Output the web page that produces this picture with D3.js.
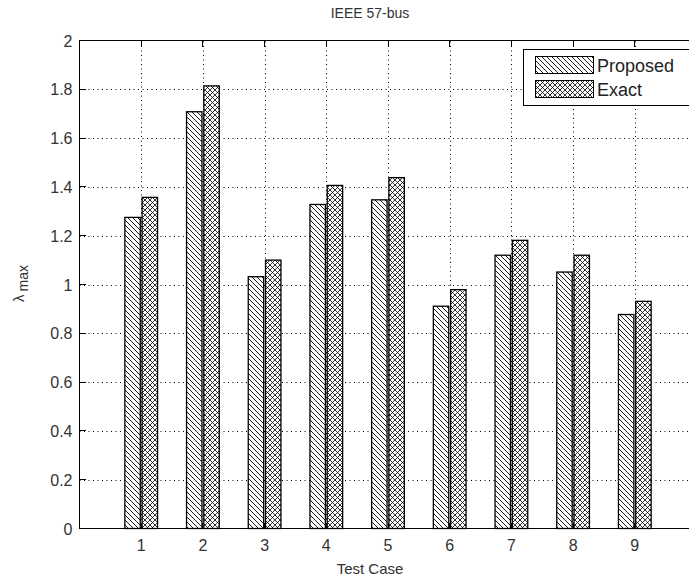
<html>
    <head>
        <style>
            body { margin: 0; background: #fff; }
            svg { display: block; }
            text { font-family: 'Liberation Sans', Arial, sans-serif; }
        </style>
        <script src="https://cdnjs.cloudflare.com/ajax/libs/d3/7.8.5/d3.min.js"></script>
    </head>
    <body>
        <script>
            const cases = [1, 2, 3, 4, 5, 6, 7, 8, 9];
            const proposed = [1.275, 1.708, 1.032, 1.328, 1.347, 0.911, 1.120, 1.051, 0.877];
            const exact = [1.357, 1.814, 1.100, 1.406, 1.438, 0.979, 1.181, 1.120, 0.931];
            const seriesNames = ['Proposed', 'Exact'];
            const yTicks = [0, 0.2, 0.4, 0.6, 0.8, 1, 1.2, 1.4, 1.6, 1.8, 2];

            const width = 689;
            const height = 579;

            // axes box runs off the right edge, like the reference
            const x = d3.scaleLinear().domain([0, 10]).range([79.5, 696.5]);
            const y = d3.scaleLinear().domain([0, 2]).range([528.5, 40.5]);

            const svg = d3.select('body').append('svg')
                .attr('width', width)
                .attr('height', height);

            svg.append('rect')
                .attr('width', width)
                .attr('height', height)
                .attr('fill', '#fff');

            const defs = svg.append('defs');

            // "\\\" hatch for Proposed
            const p1 = defs.append('pattern')
                .attr('id', 'hatch')
                .attr('patternUnits', 'userSpaceOnUse')
                .attr('width', 5)
                .attr('height', 5);
            p1.append('rect').attr('width', 5).attr('height', 5).attr('fill', '#fff');
            p1.append('path')
                .attr('d', 'M0,0L5,5M-1,4L1,6M4,-1L6,1')
                .attr('stroke', '#000')
                .attr('stroke-width', 0.9);

            // cross hatch for Exact
            const p2 = defs.append('pattern')
                .attr('id', 'cross')
                .attr('patternUnits', 'userSpaceOnUse')
                .attr('width', 5)
                .attr('height', 5);
            p2.append('rect').attr('width', 5).attr('height', 5).attr('fill', '#fff');
            p2.append('path')
                .attr('d', 'M0,0L5,5M-1,4L1,6M4,-1L6,1M0,5L5,0M-1,1L1,-1M4,6L6,4')
                .attr('stroke', '#000')
                .attr('stroke-width', 0.8);

            const fills = ['url(#hatch)', 'url(#cross)'];

            // dotted grid
            const grid = svg.append('g')
                .attr('stroke', '#000')
                .attr('stroke-width', 1)
                .attr('stroke-dasharray', '1,3.5');
            grid.selectAll('.gy')
                .data(yTicks.slice(1, -1))
                .enter().append('line')
                .attr('x1', x(0))
                .attr('x2', x(10))
                .attr('y1', d => Math.round(y(d)) + 0.5)
                .attr('y2', d => Math.round(y(d)) + 0.5);
            grid.selectAll('.gx')
                .data(cases)
                .enter().append('line')
                .attr('x1', d => Math.round(x(d)) + 0.5)
                .attr('x2', d => Math.round(x(d)) + 0.5)
                .attr('y1', y(0))
                .attr('y2', y(2));

            // bars
            const barW = 0.25;
            const offsets = [-0.14, 0.14];
            [proposed, exact].forEach((vals, s) => {
                svg.append('g').selectAll('rect')
                    .data(vals)
                    .enter().append('rect')
                    .attr('x', (d, i) => x(cases[i] + offsets[s] - barW / 2))
                    .attr('width', x(barW) - x(0))
                    .attr('y', d => y(d))
                    .attr('height', d => y(0) - y(d))
                    .attr('fill', fills[s])
                    .attr('stroke', '#000')
                    .attr('stroke-width', 1.3);
            });

            // axes
            const axisG = svg.append('g').attr('stroke', '#000').attr('stroke-width', 1).attr('fill', 'none');
            axisG.append('path')
                .attr('d', `M${x(10)},${y(2)}H${x(0)}V${y(0)}H${x(10)}`)
                .attr('shape-rendering', 'crispEdges');

            const ticks = svg.append('g').attr('stroke', '#000').attr('stroke-width', 1).attr('shape-rendering', 'crispEdges');
            ticks.selectAll('.tx')
                .data(cases)
                .enter().append('path')
                .attr('d', d => `M${x(d)},${y(0)}v-6M${x(d)},${y(2)}v6`);
            ticks.selectAll('.ty')
                .data(yTicks)
                .enter().append('path')
                .attr('d', d => `M${x(0)},${y(d)}h6`);

            svg.append('g').selectAll('text')
                .data(yTicks)
                .enter().append('text')
                .attr('x', x(0) - 7)
                .attr('y', d => y(d) + 6)
                .attr('text-anchor', 'end')
                .attr('font-size', 16)
                .attr('fill', '#333')
                .text(d => d3.format('')(d));

            svg.append('g').selectAll('text')
                .data(cases)
                .enter().append('text')
                .attr('x', d => x(d))
                .attr('y', y(0) + 22)
                .attr('text-anchor', 'middle')
                .attr('font-size', 16)
                .attr('fill', '#333')
                .text(d => d);

            svg.append('text')
                .attr('x', 370)
                .attr('y', 18)
                .attr('text-anchor', 'middle')
                .attr('font-size', 14)
                .attr('fill', '#333')
                .text('IEEE 57-bus');

            svg.append('text')
                .attr('x', 370)
                .attr('y', 574)
                .attr('text-anchor', 'middle')
                .attr('font-size', 15)
                .attr('fill', '#333')
                .text('Test Case');

            const yl = svg.append('text')
                .attr('transform', 'translate(24,302) rotate(-90)')
                .attr('font-size', 15)
                .attr('fill', '#333');
            yl.append('tspan').text('λ');
            yl.append('tspan').attr('dy', 4).attr('dx', 3).attr('font-size', 14).text('max');

            // legend
            const lg = svg.append('g');
            lg.append('rect')
                .attr('x', 523.5)
                .attr('y', 49.5)
                .attr('width', 170)
                .attr('height', 56)
                .attr('fill', '#fff')
                .attr('stroke', '#000')
                .attr('stroke-width', 1);
            seriesNames.forEach((name, i) => {
                lg.append('rect')
                    .attr('x', 535.5)
                    .attr('y', 56.5 + i * 24)
                    .attr('width', 58)
                    .attr('height', 17)
                    .attr('fill', fills[i])
                    .attr('stroke', '#000')
                    .attr('stroke-width', 1);
                lg.append('text')
                    .attr('x', 597)
                    .attr('y', 72 + i * 24)
                    .attr('font-size', 18)
                    .attr('fill', '#222')
                    .text(name);
            });
        </script>
    </body>
</html>
